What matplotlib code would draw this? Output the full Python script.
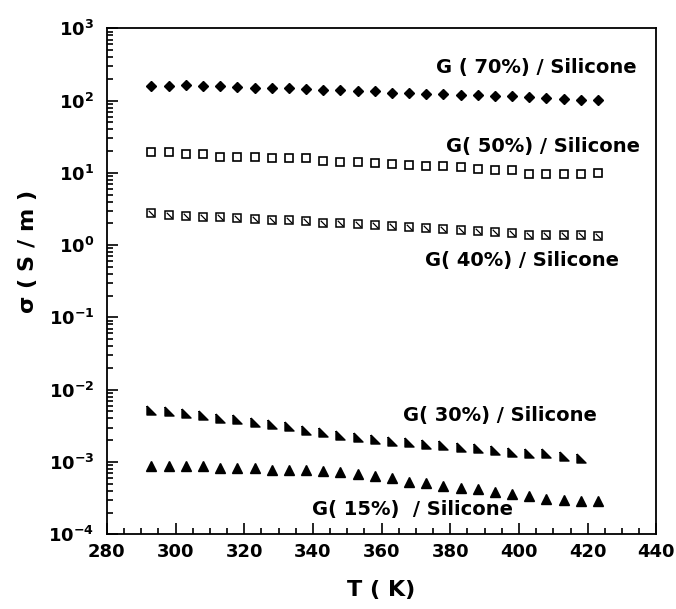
import matplotlib
matplotlib.use('Agg')
import matplotlib.pyplot as plt
import numpy as np

# temperature (K)
T = [293, 298, 303, 308, 313, 318, 323, 328, 333, 338, 343, 348, 353, 358,
     363, 368, 373, 378, 383, 388, 393, 398, 403, 408, 413, 418, 423]
T30 = T[:26]

# conductivity (S/m)
g70 = [159, 159, 162, 159, 157, 153, 148, 148, 148, 143, 141, 138, 137, 134,
       129, 126, 123, 123, 121, 118, 116, 114, 112, 109, 104, 102, 102]
g50 = [19.3, 19.3, 18.3, 18.3, 16.7, 16.7, 16.7, 16.2, 15.9, 15.9, 14.5, 14.0, 14.0, 13.5,
       13.2, 12.9, 12.6, 12.6, 12.0, 11.4, 11.0, 11.0, 9.7, 9.5, 9.5, 9.5, 9.9]
g40 = [2.76, 2.65, 2.55, 2.48, 2.45, 2.40, 2.30, 2.25, 2.20, 2.15, 2.05, 2.01, 1.95, 1.90,
       1.85, 1.80, 1.72, 1.65, 1.62, 1.55, 1.50, 1.46, 1.40, 1.38, 1.40, 1.40, 1.35]
g30 = [5.2e-3, 5.0e-3, 4.8e-3, 4.4e-3, 4.0e-3, 3.9e-3, 3.6e-3, 3.4e-3, 3.1e-3, 2.8e-3,
       2.6e-3, 2.4e-3, 2.25e-3, 2.1e-3, 1.95e-3, 1.87e-3, 1.8e-3, 1.72e-3, 1.63e-3,
       1.55e-3, 1.47e-3, 1.39e-3, 1.35e-3, 1.32e-3, 1.22e-3, 1.12e-3]
g15 = [8.8e-4, 8.8e-4, 8.8e-4, 8.8e-4, 8.3e-4, 8.3e-4, 8.3e-4, 7.7e-4, 7.7e-4, 7.7e-4,
       7.5e-4, 7.3e-4, 6.8e-4, 6.4e-4, 6.1e-4, 5.3e-4, 5.2e-4, 4.7e-4, 4.4e-4, 4.2e-4,
       3.85e-4, 3.6e-4, 3.4e-4, 3.1e-4, 3.0e-4, 2.9e-4, 2.9e-4]

labels = ['G ( 70%) / Silicone', 'G( 50%) / Silicone', 'G( 40%) / Silicone',
          'G( 30%) / Silicone', 'G( 15%)  / Silicone']

xticks = [280, 300, 320, 340, 360, 380, 400, 420, 440]
yticks = [1e-4, 1e-3, 1e-2, 1e-1, 1e0, 1e1, 1e2, 1e3]
ytick_labels = [r'$\mathbf{10^{-4}}$', r'$\mathbf{10^{-3}}$', r'$\mathbf{10^{-2}}$',
                r'$\mathbf{10^{-1}}$', r'$\mathbf{10^{0}}$', r'$\mathbf{10^{1}}$',
                r'$\mathbf{10^{2}}$', r'$\mathbf{10^{3}}$']

fig = plt.figure(figsize=(6.76, 6.09), dpi=100, facecolor='white')
ax = fig.add_axes([0.158, 0.1227, 0.813, 0.8308])

# marqueurs
half_tri = [(-1, 1), (-1, -1), (1, -1), (-1, 1)]
slash = [(-1, 1), (1, -1)]

ax.plot(T, g70, ls='none', marker='D', ms=4.8, color='black')
ax.plot(T, g50, ls='none', marker='s', ms=6.3, mfc='white', mec='black', mew=1.2)
ax.plot(T, g40, ls='none', marker='s', ms=5.4, mfc='white', mec='black', mew=1.1)
ax.plot(T, g40, ls='none', marker=slash, ms=4, mfc='none', mec='black', mew=0.9)
ax.plot(T30, g30, ls='none', marker=half_tri, ms=6.5, color='black')
ax.plot(T, g15, ls='none', marker='^', ms=6.5, color='black')

ax.set_yscale('log')
ax.set_xlim(280, 440)
ax.set_ylim(1e-4, 1e3)

ax.set_xticks(xticks)
ax.set_xticklabels([str(v) for v in xticks], fontsize=13, fontweight='bold')
ax.set_xticks(np.arange(280, 441, 5), minor=True)
ax.set_yticks(yticks)
ax.set_yticklabels(ytick_labels, fontsize=13)

ax.tick_params(which='both', direction='in', top=False, right=False, width=1.2)
ax.tick_params(which='major', length=8)
ax.tick_params(which='minor', length=4)
ax.tick_params(axis='x', pad=6)
ax.tick_params(axis='y', pad=9)
for s in ax.spines.values():
    s.set_linewidth(1.3)

# textes des courbes
kw = dict(fontsize=14, fontweight='bold', va='baseline')
ax.text(434.3, 241, labels[0], ha='right', **kw)
ax.text(435.3, 19.4, labels[1], ha='right', **kw)
ax.text(429, 0.515, labels[2], ha='right', **kw)
ax.text(422.7, 3.74e-3, labels[3], ha='right', **kw)
ax.text(339.8, 1.86e-4, labels[4], ha='left', **kw)

ax.set_xlabel('T ( K)', fontsize=16, fontweight='bold', labelpad=14)
ax.set_ylabel(r'$\mathbf{\sigma}$ ( S / m )', fontsize=16, fontweight='bold')
ax.yaxis.set_label_coords(-0.1225, 0.558)

fig.savefig('out.png', dpi=100)
